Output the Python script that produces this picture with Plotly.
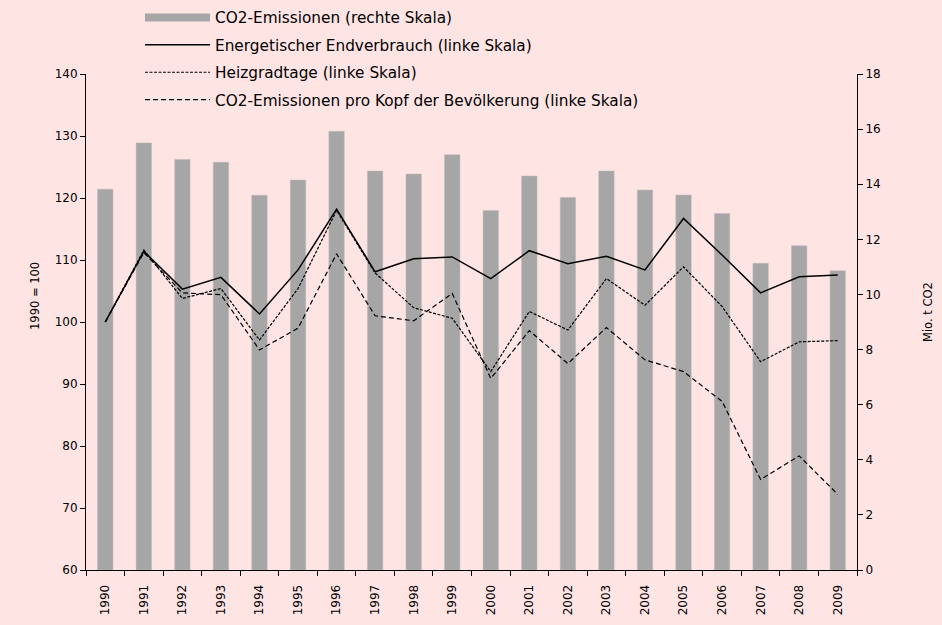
import plotly.graph_objects as go

# data
years = ['1990', '1991', '1992', '1993', '1994', '1995', '1996', '1997', '1998', '1999',
         '2000', '2001', '2002', '2003', '2004', '2005', '2006', '2007', '2008', '2009']
co2_mio_t = [13.82, 15.50, 14.90, 14.80, 13.60, 14.15, 15.92, 14.48, 14.37, 15.07,
             13.05, 14.30, 13.52, 14.48, 13.79, 13.61, 12.94, 11.13, 11.77, 10.86]
endverbrauch = [100.0, 111.4, 105.3, 107.2, 101.3, 108.4, 118.2, 108.1, 110.2, 110.5,
                107.0, 111.5, 109.4, 110.6, 108.4, 116.7, 110.8, 104.7, 107.3, 107.6]
heizgradtage = [100.0, 111.6, 103.8, 105.4, 97.1, 105.4, 118.0, 107.9, 102.3, 100.6,
                92.0, 101.7, 98.7, 107.0, 102.7, 108.9, 102.5, 93.6, 96.8, 97.0]
co2_pro_kopf = [100.0, 111.2, 104.7, 104.4, 95.5, 99.0, 111.0, 101.0, 100.2, 104.6,
                90.9, 98.6, 93.3, 99.1, 93.9, 92.0, 87.2, 74.6, 78.4, 72.2]

names = ['CO2-Emissionen (rechte Skala)',
         'Energetischer Endverbrauch (linke Skala)',
         'Heizgradtage (linke Skala)',
         'CO2-Emissionen pro Kopf der Bevölkerung (linke Skala)']

bg = '#FFE4E4'
W, H = 942, 625
L, R, T, B = 86, 85, 74, 55
pw, ph = W - L - R, H - T - B

fig = go.Figure()

# bars on the right-hand scale (primary y so the lines stay on top)
fig.add_trace(go.Bar(x=years, y=co2_mio_t, width=0.4, yaxis='y',
                     marker=dict(color='#A6A6A6', line=dict(color='#BDBDBD', width=0.5)),
                     showlegend=False))
# legend stand-in for the bars: a thick grey line
fig.add_trace(go.Scatter(x=[None], y=[None], mode='lines', name=names[0], yaxis='y2',
                         line=dict(color='#A6A6A6', width=8), legendgroup='a'))

fig.add_trace(go.Scatter(x=years, y=endverbrauch, mode='lines', name=names[1], yaxis='y2',
                         line=dict(color='black', width=1.5), legendgroup='b'))
fig.add_trace(go.Scatter(x=years, y=heizgradtage, mode='lines', name=names[2], yaxis='y2',
                         line=dict(color='black', width=1.2, dash='3px,1.5px'), legendgroup='c'))
fig.add_trace(go.Scatter(x=years, y=co2_pro_kopf, mode='lines', name=names[3], yaxis='y2',
                         line=dict(color='black', width=1.2, dash='5px,3px'), legendgroup='d'))

tick_font = dict(family='DejaVu Sans', size=12)
fig.update_layout(
    width=W, height=H,
    margin=dict(l=L, r=R, t=T, b=B, autoexpand=False),
    paper_bgcolor=bg, plot_bgcolor=bg,
    font=dict(family='DejaVu Sans', size=13, color='black'),
    bargap=0.6,
    xaxis=dict(type='category', showline=True, linecolor='black', linewidth=1,
               ticks='outside', tickson='boundaries', ticklen=5, tickcolor='black',
               tickangle=-90, showgrid=False, tickfont=tick_font, ticklabelstandoff=9,
               automargin=False),
    yaxis=dict(side='right', range=[0, 18], dtick=2, showline=True, linecolor='black',
               linewidth=1, ticks='outside', ticklen=5, tickcolor='black', showgrid=False,
               zeroline=False, tickfont=tick_font, automargin=False),
    yaxis2=dict(side='left', overlaying='y', range=[60, 140], dtick=10, showline=True,
                linecolor='black', linewidth=1, ticks='outside', ticklen=5,
                tickcolor='black', showgrid=False, zeroline=False, tickfont=tick_font,
                automargin=False),
    legend=dict(x=(140 - L) / pw, y=1 + 73 / ph, xanchor='left',
                yanchor='top', bgcolor='rgba(0,0,0,0)', font=dict(size=15.3),
                itemwidth=65, traceorder='grouped', tracegroupgap=4.5),
)

# axis titles placed as rotated annotations (they sit a bit above centre)
fig.add_annotation(text='1990 = 100', textangle=-90, xref='paper', yref='paper',
                   x=(35 - L) / pw, y=(H - B - 296) / ph, showarrow=False,
                   font=dict(size=11.5), xanchor='center', yanchor='middle')
fig.add_annotation(text='Mio. t CO2', textangle=-90, xref='paper', yref='paper',
                   x=(928 - L) / pw, y=(H - B - 312) / ph, showarrow=False,
                   font=dict(size=11.5), xanchor='center', yanchor='middle')

# drop the browser's default page margin so the figure fills the window
fig.write_html("out.html", config={'displayModeBar': False},
               post_script="document.body.style.margin='0';"
               "document.body.style.background='#FFE4E4';")
